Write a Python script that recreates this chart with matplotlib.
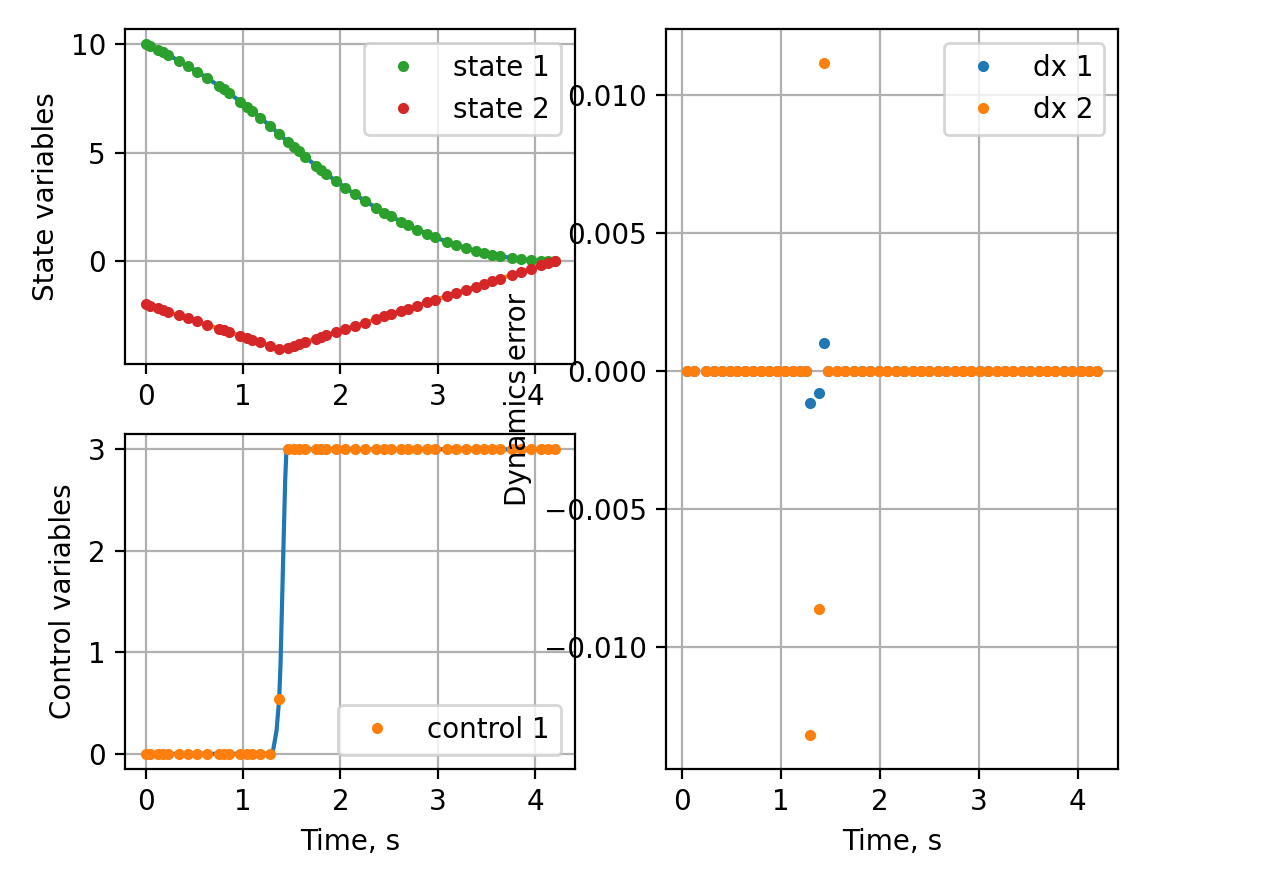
import matplotlib
matplotlib.use('Agg')
import matplotlib.pyplot as plt

# collocation grid for states and control
t = [0.0, 0.04, 0.125, 0.175, 0.225, 0.345, 0.43, 0.53, 0.63, 0.75, 0.80, 0.855,
     0.97, 1.04, 1.09, 1.175, 1.275, 1.37, 1.46, 1.52, 1.57, 1.64, 1.75, 1.80,
     1.85, 1.95, 2.05, 2.15, 2.25, 2.37, 2.45, 2.52, 2.62, 2.69, 2.79, 2.89,
     2.97, 3.09, 3.19, 3.29, 3.39, 3.47, 3.56, 3.64, 3.76, 3.86, 3.96, 4.06,
     4.13, 4.20]
state1 = [10.0, 9.919, 9.738, 9.627, 9.512, 9.221, 9.001, 8.729, 8.442, 8.078,
          7.920, 7.742, 7.354, 7.109, 6.929, 6.615, 6.231, 5.852, 5.487, 5.249,
          5.054, 4.788, 4.385, 4.207, 4.033, 3.696, 3.374, 3.067, 2.774, 2.442,
          2.232, 2.056, 1.818, 1.659, 1.445, 1.246, 1.097, 0.892, 0.736, 0.596,
          0.470, 0.380, 0.289, 0.219, 0.131, 0.074, 0.031, 0.003, -0.007, 0.0]
state2 = [-2.0, -2.06, -2.19, -2.26, -2.34, -2.52, -2.645, -2.795, -2.945, -3.125,
          -3.2, -3.28, -3.455, -3.56, -3.635, -3.76, -3.91, -4.055, -4.012, -3.924,
          -3.851, -3.749, -3.588, -3.514, -3.441, -3.295, -3.148, -3.002, -2.856,
          -2.680, -2.563, -2.460, -2.314, -2.211, -2.065, -1.919, -1.802, -1.626,
          -1.479, -1.333, -1.187, -1.070, -0.938, -0.821, -0.645, -0.499, -0.352,
          -0.206, -0.103, 0.0]
control1 = [0.0] * 17 + [0.54] + [3.0] * 32

# interpolated control curve
t_fine = [0.0, 1.30, 1.32, 1.343, 1.37, 1.384, 1.40, 1.418, 1.432, 1.445, 4.2]
u_fine = [0.0, 0.0, 0.1, 0.23, 0.54, 0.89, 1.5, 2.19, 2.7, 3.0, 3.0]

# defect points
t_err = [0.045, 0.12, 0.24, 0.32, 0.40, 0.48, 0.56, 0.64, 0.72, 0.80, 0.88, 0.96,
         1.04, 1.12, 1.19, 1.25, 1.295, 1.38, 1.435, 1.48, 1.565, 1.65, 1.735,
         1.82, 1.905, 1.99, 2.075, 2.16, 2.245, 2.33, 2.415, 2.50, 2.585, 2.67,
         2.755, 2.84, 2.925, 3.01, 3.095, 3.18, 3.265, 3.35, 3.435, 3.52, 3.605,
         3.69, 3.775, 3.86, 3.945, 4.03, 4.115, 4.20]
dx1 = [0.0] * 16 + [-0.00116, -0.00080, 0.00101] + [0.0] * 33
dx2 = [0.0] * 16 + [-0.01319, -0.00862, 0.01116] + [0.0] * 33

fig = plt.figure(figsize=(1262 / 200, 876 / 200), dpi=200)

ax = fig.add_axes([0.0994, 0.5845, 0.3562, 0.3824])
ax.plot(t, state1, color='C0')
ax.plot(t, state2, color='C1')
ax.plot(t, state1, '.', color='C2', label='state 1')
ax.plot(t, state2, '.', color='C3', label='state 2')
ax.set_ylabel('State variables')
ax.grid()
ax.legend(loc='upper right')

ax = fig.add_axes([0.0994, 0.1221, 0.3562, 0.3824])
ax.plot(t_fine, u_fine, color='C0')
ax.plot(t, control1, '.', color='C1', label='control 1')
ax.set_xlabel('Time, s')
ax.set_ylabel('Control variables')
ax.grid()
ax.legend(loc='lower right')

ax = fig.add_axes([0.5277, 0.1221, 0.3582, 0.8447])
ax.plot(t_err, dx1, '.', color='C0', label='dx 1')
ax.plot(t_err, dx2, '.', color='C1', label='dx 2')
ax.set_xlabel('Time, s')
ax.set_ylabel('Dynamics error')
ax.grid()
ax.legend(loc='upper right')

fig.savefig('out.png', dpi=200)
